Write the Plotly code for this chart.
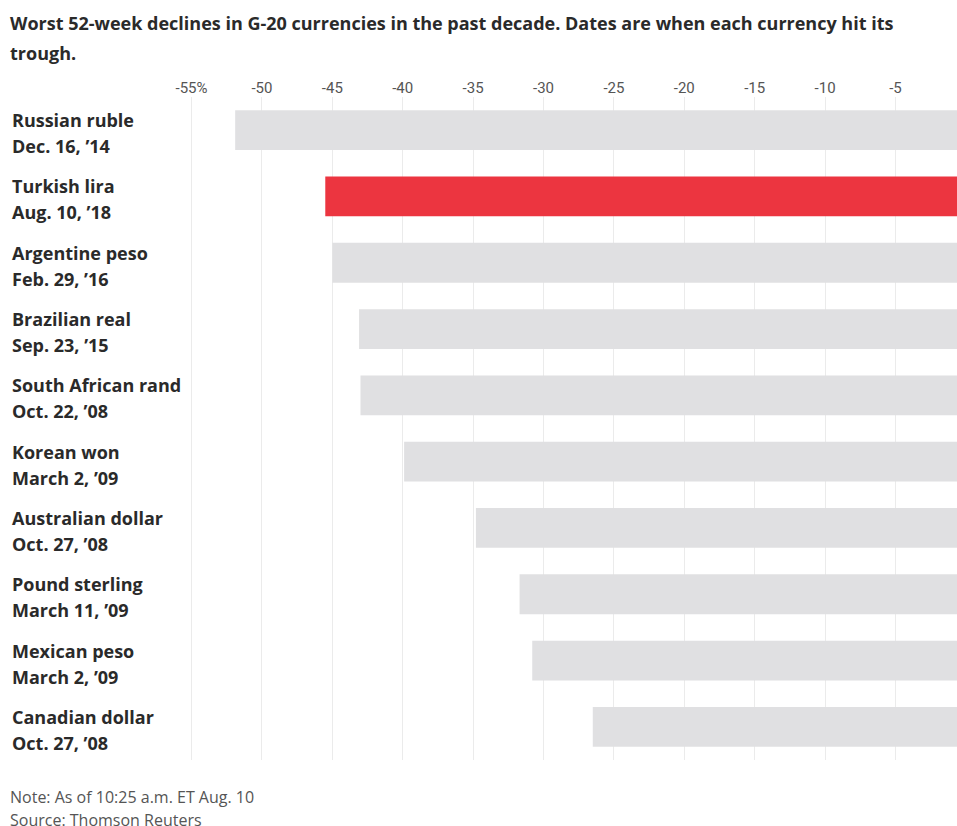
import plotly.graph_objects as go

# ---- data ----
currencies = ["Russian ruble", "Turkish lira", "Argentine peso", "Brazilian real",
              "South African rand", "Korean won", "Australian dollar",
              "Pound sterling", "Mexican peso", "Canadian dollar"]
trough_dates = ["Dec. 16, ’14", "Aug. 10, ’18", "Feb. 29, ’16", "Sep. 23, ’15",
                "Oct. 22, ’08", "March 2, ’09", "Oct. 27, ’08", "March 11, ’09",
                "March 2, ’09", "Oct. 27, ’08"]
declines = [-51.9, -45.5, -45.0, -43.1, -43.0, -39.9, -34.8, -31.7, -30.8, -26.5]
highlight = "Turkish lira"
tick_vals = [-55, -50, -45, -40, -35, -30, -25, -20, -15, -10, -5, 0]
tick_text = ["-55%", "-50", "-45", "-40", "-35", "-30", "-25", "-20", "-15", "-10", "-5", "0"]

title_lines = ["Worst 52-week declines in G-20 currencies in the past decade. Dates are when each currency hit its",
               "trough."]
note_lines = ["Note: As of 10:25 a.m. ET Aug. 10", "Source: Thomson Reuters"]

# ---- layout geometry ----
W, H = 957, 826
L, R, T, B = 150, 0, 97, 66
PW, PH = W - L - R, H - T - B


def px_x(p):
    return (p - L) / PW


def px_y(p):
    return (H - B - p) / PH


GRAY = "#e0e0e2"
RED = "#ec3540"
TXT = "#2a2a2a"
LABEL_FONT = "Open Sans"
TICK_FONT = "Roboto"

colors = [RED if c == highlight else GRAY for c in currencies]

fig = go.Figure(go.Bar(
    y=currencies, x=declines, orientation="h",
    marker=dict(color=colors, line=dict(width=0)),
    hoverinfo="x+y",
))

annotations = []
for c, d in zip(currencies, trough_dates):
    annotations.append(dict(xref="paper", yref="y", x=px_x(10), y=c, xanchor="left",
                            yanchor="middle", text=f"<b>{c}</b>", showarrow=False,
                            yshift=10, font=dict(family=LABEL_FONT, size=18, color=TXT)))
    annotations.append(dict(xref="paper", yref="y", x=px_x(10), y=c, xanchor="left",
                            yanchor="middle", text=f"<b>{d}</b>", showarrow=False,
                            yshift=-16, font=dict(family=LABEL_FONT, size=18, color=TXT)))

for line, ypix in zip(title_lines, [23, 52.5]):
    annotations.append(dict(xref="paper", yref="paper", x=px_x(8), y=px_y(ypix),
                            xanchor="left", yanchor="middle", text=f"<b>{line}</b>",
                            showarrow=False, font=dict(family=LABEL_FONT, size=18, color=TXT)))

for line, ypix in zip(note_lines, [797, 820]):
    annotations.append(dict(xref="paper", yref="paper", x=px_x(8), y=px_y(ypix),
                            xanchor="left", yanchor="middle", text=line,
                            showarrow=False, font=dict(family=LABEL_FONT, size=16, color="#555555")))

# the "0" tick label sits just past the right edge of the cropped chart
annotations.append(dict(xref="paper", yref="paper", x=px_x(966), y=px_y(86),
                        xanchor="center", yanchor="middle", text=tick_text[-1],
                        showarrow=False, font=dict(family=TICK_FONT, size=15, color="#555555")))

fig.update_layout(
    width=W, height=H,
    margin=dict(l=L, r=R, t=T, b=B, pad=0),
    paper_bgcolor="white", plot_bgcolor="white",
    bargap=0.4,
    showlegend=False,
    annotations=annotations,
    xaxis=dict(
        side="top", range=[-57.95, -0.63], tickmode="array",
        tickvals=tick_vals, ticktext=tick_text,
        showgrid=True, gridcolor="#ebebeb", gridwidth=1,
        zeroline=False, showline=False, ticks="",
        tickfont=dict(family=TICK_FONT, size=15, color="#555555"),
        fixedrange=True,
    ),
    yaxis=dict(
        categoryorder="array", categoryarray=currencies, autorange="reversed",
        showticklabels=False, showgrid=False, zeroline=False, showline=False,
        ticks="", fixedrange=True,
    ),
)

fig.write_html("out.html", config={"displayModeBar": False},
               post_script="document.body.style.margin='0';document.body.style.overflow='hidden';")
